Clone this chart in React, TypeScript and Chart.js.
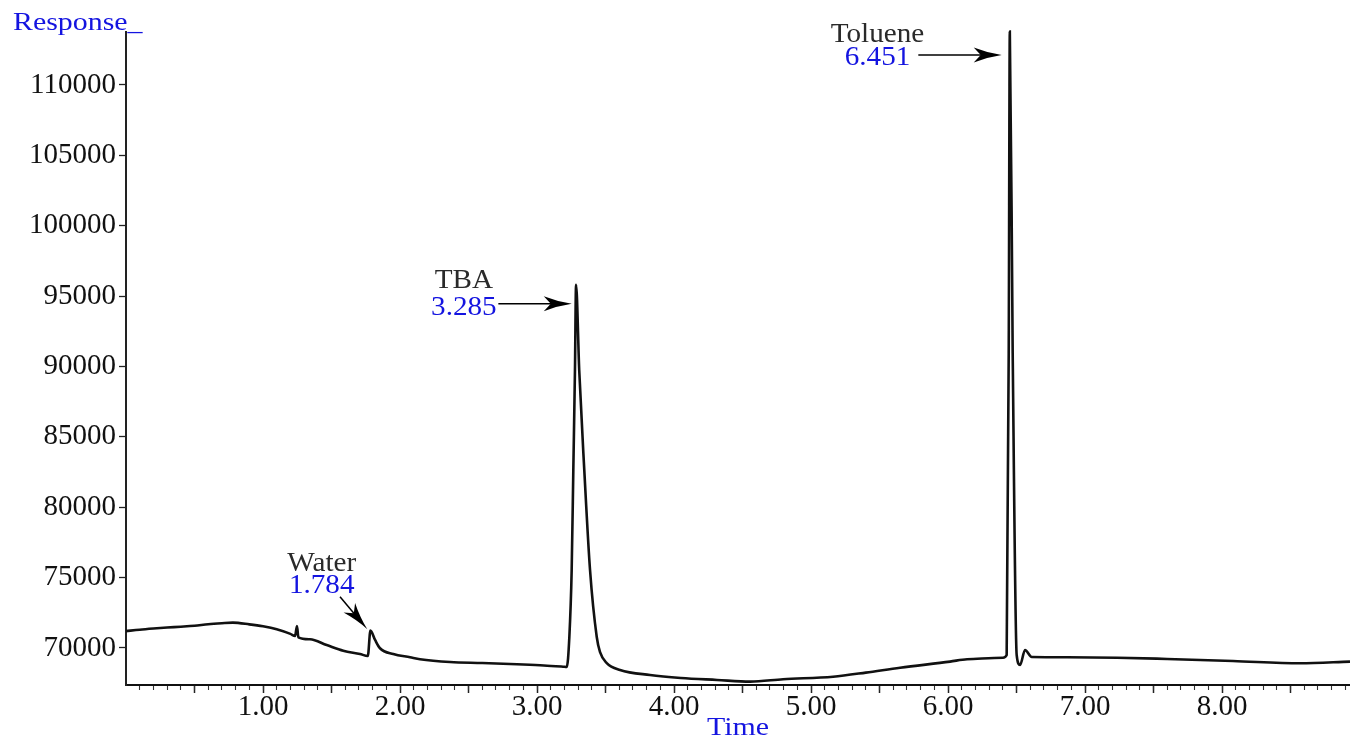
import { useEffect, useRef } from 'react';
import { Chart, registerables, type Plugin } from 'chart.js';

Chart.register(...registerables);

// retention time (min) and detector response
const times = [
  0.0, 0.1, 0.2, 0.3, 0.4, 0.5, 0.6, 0.7, 0.78, 0.9, 1.0, 1.1, 1.2, 1.234, 1.248, 1.258,
  1.343, 1.465, 1.586, 1.708, 1.765, 1.784, 1.818, 1.854, 1.951, 2.073, 2.146, 2.365, 2.6,
  2.854, 3.05, 3.19, 3.217, 3.236, 3.253, 3.265, 3.277, 3.285, 3.308, 3.345, 3.387, 3.436,
  3.46, 3.509, 3.606, 3.825, 4.05, 4.314, 4.555, 4.796, 5.161, 5.4, 5.65, 6.015, 6.139,
  6.401, 6.428, 6.443, 6.451, 6.472, 6.501, 6.526, 6.562, 6.611, 6.869, 7.234, 7.599,
  8.08, 8.569, 8.934,
];
const responses = [
  71200, 71300, 71380, 71450, 71510, 71580, 71690, 71760, 71800, 71680, 71540, 71330, 71000,
  70850, 71560, 70760, 70620, 70210, 69810, 69570, 69430, 71230, 70570, 69980, 69570, 69340,
  69200, 69000, 68930, 68840, 68760, 68670, 68650, 70780, 75540, 82650, 89750, 95800, 89750,
  82650, 75540, 70780, 69700, 68930, 68440, 68080, 67870, 67730, 67610, 67780, 67960, 68250,
  68600, 69030, 69200, 69310, 69500, 90960, 113790, 90960, 69500, 68790, 69860, 69360, 69340,
  69310, 69220, 69080, 68910, 69030,
];

const yTickValues = [70000, 75000, 80000, 85000, 90000, 95000, 100000, 105000, 110000];
const xLabelledTicks = [1, 2, 3, 4, 5, 6, 7, 8];

const peakNames = ['Water', 'TBA', 'Toluene'];
const peakTimes = [1.784, 3.285, 6.451];
const peakTops = [71230, 95800, 113790];

const X_MIN = 0;
const X_MAX = 8.934;
const Y_MIN = 67370;
const Y_MAX = 113800;

const SERIF = "'Liberation Serif', 'Times New Roman', serif";
const BLUE = '#1414e0';

// label placement for each peak, in pixels relative to the peak apex / arrow tip
const annoLayout = [
  { tip: [-3.1, -1.4], from: [-27.3, -32.6], num: [-45.6, -36], name: -58.6 },
  { tip: [-4.3, 19], from: [-73.4, 0], num: [-107.9, 11], name: -15.7 },
  { tip: [-8.1, 23.3], from: [-83.4, 0], num: [-124.2, 10], name: -13.3 },
];

function stretchedText(ctx: CanvasRenderingContext2D, text: string, x: number, y: number, align: CanvasTextAlign, sx: number) {
  ctx.save();
  ctx.translate(x, y);
  ctx.scale(sx, 1);
  ctx.textAlign = align;
  ctx.textBaseline = 'alphabetic';
  ctx.fillText(text, 0, 0);
  ctx.restore();
}

function arrow(ctx: CanvasRenderingContext2D, x1: number, y1: number, x2: number, y2: number) {
  const ang = Math.atan2(y2 - y1, x2 - x1);
  const len = Math.hypot(x2 - x1, y2 - y1);
  ctx.save();
  ctx.translate(x2, y2);
  ctx.rotate(ang);
  ctx.strokeStyle = '#000';
  ctx.fillStyle = '#000';
  ctx.lineWidth = 1.5;
  ctx.beginPath();
  ctx.moveTo(-len, 0);
  ctx.lineTo(-20, 0);
  ctx.stroke();
  ctx.beginPath();
  ctx.moveTo(0, 0);
  ctx.quadraticCurveTo(-14, -2, -28, -7.5);
  ctx.lineTo(-21, 0);
  ctx.lineTo(-28, 7.5);
  ctx.quadraticCurveTo(-14, 2, 0, 0);
  ctx.closePath();
  ctx.fill();
  ctx.restore();
}

const annotations: Plugin<'line'> = {
  id: 'chromAnnotations',
  afterDraw(chart) {
    const { ctx, scales } = chart;
    const xs = scales.x;
    const ys = scales.y;
    ctx.save();

    ctx.fillStyle = BLUE;
    ctx.font = `26px ${SERIF}`;
    stretchedText(ctx, 'Response_', 13, 30, 'left', 1.15);
    stretchedText(ctx, 'Time', (chart.chartArea.left + chart.chartArea.right) / 2, 735, 'center', 1.15);

    peakNames.forEach((name, i) => {
      const lay = annoLayout[i];
      const ax = xs.getPixelForValue(peakTimes[i]);
      const ay = ys.getPixelForValue(peakTops[i]);
      const tx = ax + lay.tip[0];
      const ty = ay + lay.tip[1];
      arrow(ctx, tx + lay.from[0], ty + lay.from[1], tx, ty);

      const cx = tx + lay.num[0];
      const by = ty + lay.num[1];
      ctx.font = `27px ${SERIF}`;
      ctx.fillStyle = BLUE;
      stretchedText(ctx, peakTimes[i].toFixed(3), cx, by, 'center', 1.08);
      ctx.fillStyle = '#2a2a2a';
      stretchedText(ctx, name, cx, ty + lay.name, 'center', 1.08);
    });

    ctx.restore();
  },
};

export default function App() {
  const canvasRef = useRef<HTMLCanvasElement>(null);

  useEffect(() => {
    if (!canvasRef.current) return;
    const chart = new Chart(canvasRef.current, {
      type: 'line',
      data: {
        datasets: [
          {
            label: 'Response',
            data: times.map((t, i) => ({ x: t, y: responses[i] })),
            borderColor: '#111',
            borderWidth: 2.6,
            pointRadius: 0,
            cubicInterpolationMode: 'monotone',
            clip: false as any,
          },
        ],
      },
      options: {
        animation: false,
        responsive: true,
        maintainAspectRatio: false,
        layout: { padding: { top: 31.5, right: 0, bottom: 0, left: 0 } },
        plugins: { legend: { display: false }, tooltip: { enabled: false } },
        scales: {
          // half-minute marks: longer ticks, no labels, zero height so it sits on the main axis
          xHalf: {
            type: 'linear',
            position: 'bottom',
            weight: 0,
            min: X_MIN,
            max: X_MAX,
            afterBuildTicks: (scale) => {
              const ticks = [];
              for (let i = 1; i <= 17; i++) ticks.push({ value: i / 2 });
              scale.ticks = ticks;
            },
            afterFit: (scale) => { scale.height = 0; },
            border: { display: false },
            grid: { drawOnChartArea: false, drawTicks: true, tickLength: 8, tickColor: '#222', tickWidth: 1.5 },
            ticks: { display: false },
          },
          x: {
            type: 'linear',
            position: 'bottom',
            weight: 1,
            min: X_MIN,
            max: X_MAX,
            afterBuildTicks: (scale) => {
              const ticks = [];
              for (let i = 1; i <= 89; i++) ticks.push({ value: i / 10 });
              scale.ticks = ticks;
            },
            afterFit: (scale) => { scale.height = 55; },
            border: { display: true, color: '#111', width: 2 },
            grid: { drawOnChartArea: false, drawTicks: true, tickLength: 5, tickColor: '#333', tickWidth: 1.1 },
            ticks: {
              autoSkip: false,
              maxRotation: 0,
              padding: 0,
              color: '#111',
              font: { family: SERIF, size: 29 },
              callback: (v) => {
                const n = Number(v);
                return xLabelledTicks.some((k) => Math.abs(k - n) < 1e-6) ? n.toFixed(2) : '';
              },
            },
          },
          y: {
            type: 'linear',
            min: Y_MIN,
            max: Y_MAX,
            afterBuildTicks: (scale) => { scale.ticks = yTickValues.map((value) => ({ value })); },
            afterFit: (scale) => { scale.width = 126; },
            border: { display: true, color: '#222', width: 2 },
            grid: { drawOnChartArea: false, drawTicks: true, tickLength: 7, tickColor: '#222', tickWidth: 1.3 },
            ticks: {
              padding: 3,
              color: '#111',
              font: { family: SERIF, size: 29 },
              callback: (v) => String(v),
            },
          },
        },
      },
      plugins: [annotations],
    });
    return () => { chart.destroy(); };
  }, []);

  return (
    <div style={{ position: 'absolute', left: 0, top: 0, width: 1350, height: 740, background: '#fff' }}>
      <canvas ref={canvasRef} />
    </div>
  );
}
